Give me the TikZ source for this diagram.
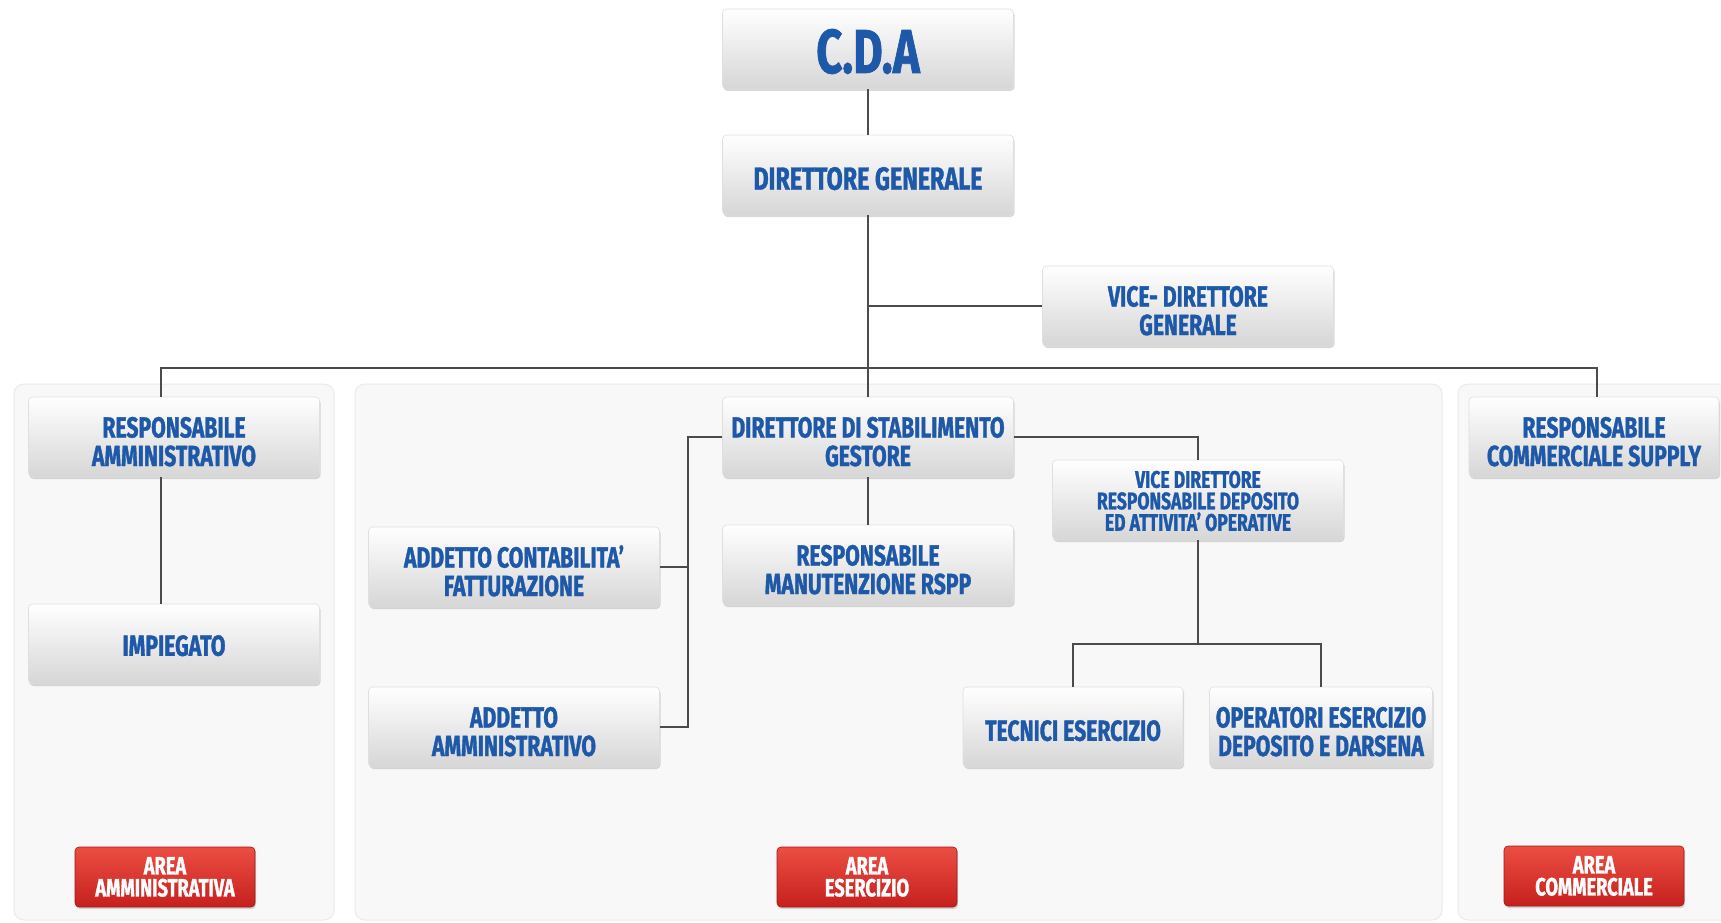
\documentclass[tikz,border=0pt]{standalone}
\usepackage{fontspec}
\usepackage{tikz}
\usetikzlibrary{positioning,calc,shadows}
\newfontfamily\orgfont{Fira Sans}[FakeStretch=0.73, FakeBold=1.2]
\definecolor{orgblue}{RGB}{30,88,168}
\definecolor{linegray}{RGB}{75,75,75}
\definecolor{panelgray}{RGB}{248,248,248}
\definecolor{panelline}{RGB}{234,234,234}
\definecolor{redtop}{RGB}{236,78,66}
\definecolor{redbottom}{RGB}{198,32,30}
\newcommand\boxfont{\orgfont\bfseries\fontsize{29}{28.5}\selectfont}
\newcommand\bigboxfont{\orgfont\bfseries\fontsize{32}{30}\selectfont}
\newcommand\smallboxfont{\orgfont\bfseries\fontsize{24}{21.5}\selectfont}
\newcommand\topfont{\orgfont\bfseries\fontsize{62}{60}\selectfont}
\newcommand\areafont{\orgfont\bfseries\fontsize{25}{22}\selectfont}

\begin{document}
\begin{tikzpicture}[x=1pt,y=-1pt,
    orgbox/.style={rectangle, rounded corners=4pt, draw=gray!25, line width=0.6pt,
        top color=white, bottom color={rgb,255:red,214;green,214;blue,214},
        drop shadow={opacity=0.3, shadow xshift=1pt, shadow yshift=-2pt},
        minimum width=291pt, minimum height=80pt, inner sep=2pt,
        align=center, text=orgblue, font=\boxfont, text height=58.5pt},
    areabtn/.style={rectangle, rounded corners=4pt, draw=redbottom!80!black, line width=0.6pt,
        top color=redtop, bottom color=redbottom,
        drop shadow={opacity=0.3, shadow xshift=1pt, shadow yshift=-2pt},
        minimum width=180pt, minimum height=60pt, inner sep=1pt,
        align=center, text=white, font=\areafont},
    panel/.style={fill=panelgray, draw=panelline, line width=1pt, rounded corners=10pt},
    conn/.style={draw=linegray, line width=1.5pt}]
    \useasboundingbox (0,0) rectangle (1721,923);
    \clip (0,0) rectangle (1721,923);
    \fill[white] (0,0) rectangle (1721,923);

    % area panels
    \draw[panel] (14,384) rectangle (334,920);
    \draw[panel] (355,384) rectangle (1442,920);
    \draw[panel] (1458,384) rectangle (1740,920);

    % top of the chart
    \node[orgbox, font=\topfont, text height=49pt] (cda) at (868,49) {C.D.A};
    \node[orgbox, font=\bigboxfont, text height=30pt] (dg) at (868,175) {DIRETTORE GENERALE};
    \node[orgbox] (vdg) at (1188,306) {VICE- DIRETTORE\\GENERALE};

    % area amministrativa
    \node[orgbox] (ra) at (174,437) {RESPONSABILE\\AMMINISTRATIVO};
    \node[orgbox, text height=24pt] (imp) at (174,644) {IMPIEGATO};
    \node[areabtn] (areaamm) at (165,877) {AREA\\AMMINISTRATIVA};

    % area esercizio
    \node[orgbox] (ds) at (868,437) {DIRETTORE DI STABILIMENTO\\GESTORE};
    \node[orgbox] (rm) at (868,565) {RESPONSABILE\\MANUTENZIONE RSPP};
    \node[orgbox] (ac) at (514,567) {ADDETTO CONTABILITA’\\FATTURAZIONE};
    \node[orgbox] (aa) at (514,727) {ADDETTO\\AMMINISTRATIVO};
    \node[orgbox, font=\smallboxfont, text height=62pt] (vdr) at (1198,500) {VICE DIRETTORE\\RESPONSABILE DEPOSITO\\ED ATTIVITA’ OPERATIVE};
    \node[orgbox, minimum width=220pt, text height=28pt] (te) at (1073,727) {TECNICI ESERCIZIO};
    \node[orgbox, minimum width=223pt] (op) at (1321,727) {OPERATORI ESERCIZIO\\DEPOSITO E DARSENA};
    \node[areabtn] (areaes) at (867,877) {AREA\\ESERCIZIO};

    % area commerciale
    \node[orgbox, minimum width=250pt] (rc) at (1594,437) {RESPONSABILE\\COMMERCIALE SUPPLY};
    \node[areabtn] (areacomm) at (1594,876) {AREA\\COMMERCIALE};

    % connectors
    \coordinate (busl) at (161,368);
    \coordinate (busr) at (1597,368);
    \coordinate (brk) at (688,437);
    \coordinate (fork) at (1198,644);
    \draw[conn] (cda) -- (dg);
    \draw[conn] (dg.south) -- (ds.north);
    \draw[conn] (vdg.west) -- (vdg.west -| dg.south);
    \draw[conn] (ra.north -| busl) -- (busl) -- (busr) -- (rc.north -| busr);
    \draw[conn] (ra.south -| busl) -- (imp.north -| busl);
    \draw[conn] (ds) -- (rm);
    \draw[conn] (ds.west) -- (brk) |- (aa.east);
    \draw[conn] (ac.east) -- (ac.east -| brk);
    \draw[conn] (ds.east) -| (vdr.north);
    \draw[conn] (vdr.south) -- (fork);
    \draw[conn] (te.north) |- (fork) -| (op.north);
\end{tikzpicture}
\end{document}
